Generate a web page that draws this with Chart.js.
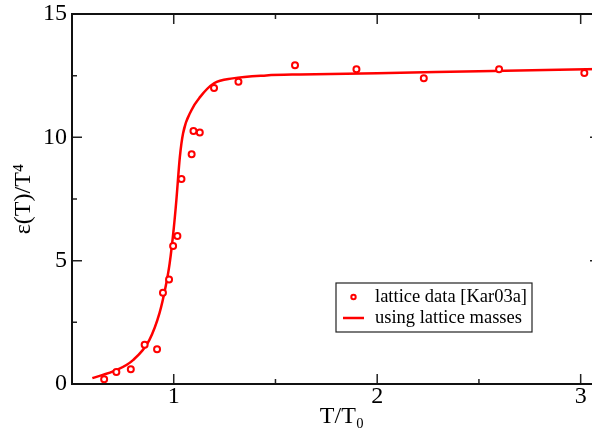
<!DOCTYPE html>
<html>
<head>
<meta charset="utf-8">
<script src="https://cdn.jsdelivr.net/npm/chart.js@4"></script>
<style>
  html, body { margin: 0; padding: 0; background: #fff; overflow: hidden; }
</style>
</head>
<body>
<canvas id="chart" width="606" height="437"></canvas>
<script>
// lattice data points (T/T0, eps/T^4)
const latticeT = [0.658, 0.718, 0.789, 0.857, 0.918, 0.947, 0.977, 0.997, 1.018, 1.038, 1.088, 1.097, 1.128, 1.198, 1.318, 1.596, 1.898, 2.229, 2.599, 3.018];
const latticeE = [0.19, 0.49, 0.60, 1.59, 1.41, 3.70, 4.24, 5.59, 6.00, 8.31, 9.31, 10.26, 10.20, 12.00, 12.25, 12.92, 12.76, 12.40, 12.76, 12.61];

// curve "using lattice masses"
const curveT = [0.60, 0.72, 0.80, 0.88, 0.93, 0.96, 0.98, 1.00, 1.013, 1.03, 1.046, 1.087, 1.128, 1.198, 1.29, 1.455, 1.62, 2.0, 2.5, 3.1];
const curveE = [0.24, 0.57, 0.97, 1.78, 2.87, 3.94, 4.89, 6.3, 7.46, 9.2, 10.17, 11.1, 11.62, 12.19, 12.39, 12.51, 12.55, 12.6, 12.68, 12.77];

// ticks
const xMajor = [1, 2, 3];
const xMinor = [1.5, 2.5];
const yMajor = [0, 5, 10, 15];
const yMinor = [2.5, 7.5, 12.5];

const seriesNames = ["lattice data [Kar03a]", "using lattice masses"];

const RED = "#ff0000";
const FONT = "'Liberation Serif', 'Times New Roman', serif";

const toPoints = (xs, ys) => xs.map((x, i) => ({ x, y: ys[i] }));

// frame + inward ticks on all four sides, xmgrace style
const framePlugin = {
  id: "frame",
  afterDatasetsDraw(chart) {
    const { ctx, chartArea: a, scales } = chart;
    const xs = scales.x, ys = scales.y;
    ctx.save();
    ctx.strokeStyle = "#222";
    ctx.lineWidth = 1.5;
    const tick = (vals, len, horiz) => {
      vals.forEach((v) => {
        ctx.beginPath();
        if (horiz) {
          const px = xs.getPixelForValue(v);
          ctx.moveTo(px, a.bottom); ctx.lineTo(px, a.bottom - len);
          ctx.moveTo(px, a.top); ctx.lineTo(px, a.top + len);
        } else {
          const py = ys.getPixelForValue(v);
          ctx.moveTo(a.left, py); ctx.lineTo(a.left + len, py);
          ctx.moveTo(a.right, py); ctx.lineTo(a.right - len, py);
        }
        ctx.stroke();
      });
    };
    tick(xMajor, 10, true);
    tick(xMinor, 5, true);
    tick(yMajor, 10, false);
    tick(yMinor, 5, false);

    ctx.strokeStyle = "#111";
    ctx.lineWidth = 2;
    ctx.strokeRect(a.left, a.top, a.right - a.left, a.bottom - a.top);
    ctx.restore();
  }
};

// boxed legend inside plot area
const legendPlugin = {
  id: "boxLegend",
  afterDraw(chart) {
    const { ctx } = chart;
    const bx = 336, by = 283, bw = 196, bh = 49;
    ctx.save();
    ctx.fillStyle = "#fff";
    ctx.fillRect(bx, by, bw, bh);
    ctx.strokeStyle = "#222";
    ctx.lineWidth = 1.2;
    ctx.strokeRect(bx, by, bw, bh);

    // point symbol
    ctx.strokeStyle = RED;
    ctx.lineWidth = 2;
    ctx.beginPath();
    ctx.arc(353.5, 297, 2.2, 0, Math.PI * 2);
    ctx.stroke();
    // line symbol
    ctx.lineWidth = 2.5;
    ctx.beginPath();
    ctx.moveTo(343, 318); ctx.lineTo(364, 318);
    ctx.stroke();

    ctx.fillStyle = "#000";
    ctx.font = "18.5px " + FONT;
    ctx.textBaseline = "middle";
    ctx.fillText(seriesNames[0], 375, 297);
    ctx.fillText(seriesNames[1], 375, 318);
    ctx.restore();
  }
};

new Chart(document.getElementById("chart"), {
  type: "scatter",
  data: {
    datasets: [
      {
        label: seriesNames[0],
        data: toPoints(latticeT, latticeE),
        showLine: false,
        pointStyle: "circle",
        pointRadius: 3,
        pointBorderWidth: 2,
        borderColor: RED,
        backgroundColor: "#fff",
        order: 0
      },
      {
        label: seriesNames[1],
        data: toPoints(curveT, curveE),
        showLine: true,
        pointRadius: 0,
        borderColor: RED,
        borderWidth: 2.5,
        cubicInterpolationMode: "monotone",
        order: 1
      }
    ]
  },
  options: {
    responsive: false,
    animation: false,
    layout: { padding: { top: 14, right: 0, left: 0, bottom: 0 } },
    plugins: { legend: { display: false }, tooltip: { enabled: false } },
    scales: {
      x: {
        type: "linear",
        min: 0.5,
        max: 3.095,
        grid: { display: false, drawTicks: false },
        border: { display: false },
        afterBuildTicks: (s) => { s.ticks = xMajor.map((v) => ({ value: v })); },
        afterFit: (s) => { s.height = 53; },
        ticks: { color: "#000", padding: 1, font: { family: FONT, size: 24, lineHeight: 1 } },
        title: {
          display: true,
          text: "  T/T\u2080",
          color: "#000",
          padding: { bottom: 6 },
          font: { family: FONT, size: 24 }
        }
      },
      y: {
        type: "linear",
        min: 0,
        max: 15,
        grid: { display: false, drawTicks: false },
        border: { display: false },
        afterBuildTicks: (s) => { s.ticks = yMajor.map((v) => ({ value: v })); },
        afterFit: (s) => { s.width = 72; },
        ticks: { color: "#000", padding: 5, font: { family: FONT, size: 24, lineHeight: 0.6 } },
        title: {
          display: true,
          text: "\u03b5(T)/T\u2074",
          color: "#000",
          padding: { top: 9 },
          font: { family: FONT, size: 24 }
        }
      }
    }
  },
  plugins: [framePlugin, legendPlugin]
});
</script>
</body>
</html>
